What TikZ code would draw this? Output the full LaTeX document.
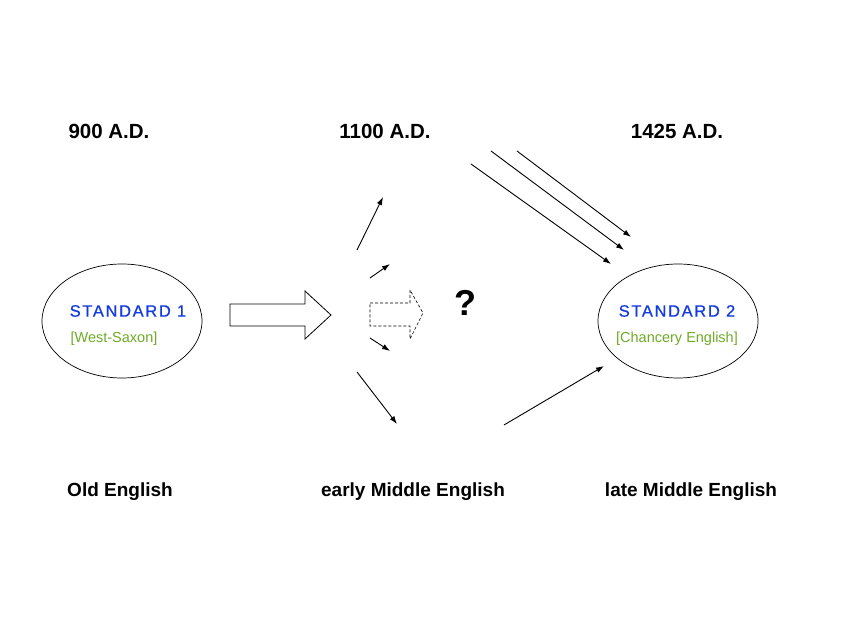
\documentclass[tikz,border=0pt]{standalone}
\usepackage{fontspec}
\setmainfont{Liberation Sans}
\newfontfamily\stdfont[LetterSpace=10,FakeBold=0.8]{Liberation Sans}
\usetikzlibrary{arrows.meta,shapes.geometric}
\definecolor{stdblue}{RGB}{20,60,220}
\definecolor{stdgreen}{RGB}{110,170,40}
\tikzset{
  lbl/.style={font=\fontsize{19}{22}\selectfont\bfseries, inner sep=0pt},
  datelbl/.style={font=\fontsize{20.5}{24}\selectfont\bfseries, inner sep=0pt},
  stdname/.style={font=\stdfont\fontsize{16.5}{19}\selectfont, text=stdblue, inner sep=0pt},
  stdsub/.style={font=\fontsize{14.5}{17}\selectfont, text=stdgreen, inner sep=0pt},
  stdell/.style={draw, line width=0.7pt, ellipse, minimum width=160pt, minimum height=114pt},
  arr/.style={-{Latex[length=8pt,width=5.5pt]}, line width=0.9pt},
}
\begin{document}
\begin{tikzpicture}[x=1pt,y=-1pt]
\useasboundingbox (0,0) rectangle (848,636);
% labels
\node[datelbl] (d900) at (109,131) {900 A.D.};
\node[datelbl] (d1100) at (385,131) {1100 A.D.};
\node[datelbl] (d1425) at (677,131) {1425 A.D.};
\node[lbl] (oe) at (120,492) {Old English};
\node[lbl] (eme) at (413,492) {early Middle English};
\node[lbl] (lme) at (691,492) {late Middle English};
% ellipses
\node[stdell] (s1) at (122,321) {};
\node[stdell] (s2) at (678,321) {};
\node[stdname] (s1n) at (128,311) {STANDARD 1};
\node[stdsub] (s1s) at (114,339) {[West-Saxon]};
\node[stdname] (s2n) at (677,311) {STANDARD 2};
\node[stdsub] (s2s) at (677,339) {[Chancery English]};
% big arrow
\draw[line width=0.8pt] (230,304) -- (305,304) -- (305,291) -- (331,315) -- (305,339) -- (305,326) -- (230,326) -- cycle;
% dashed arrow
\draw[line width=0.6pt, dash pattern=on 3pt off 2pt] (370,303) -- (410,303) -- (410,290) -- (423,313) -- (410,339) -- (410,326) -- (370,326) -- cycle;
\node[font=\fontsize{36}{40}\selectfont\bfseries, inner sep=0pt] (q) at (465,303) {?};
% small arrows
\coordinate (a1s) at (357,250); \coordinate (a1e) at (383,197);
\coordinate (a2s) at (370,278); \coordinate (a2e) at (390,264);
\coordinate (a3s) at (370,338); \coordinate (a3e) at (390,351);
\coordinate (a4s) at (357,372); \coordinate (a4e) at (397,424);
\draw[arr] (a1s) -- (a1e);
\draw[arr] (a2s) -- (a2e);
\draw[arr] (a3s) -- (a3e);
\draw[arr] (a4s) -- (a4e);
% three arrows
\coordinate (b1s) at (491,151); \coordinate (b1e) at (624,250);
\coordinate (b2s) at (517,151); \coordinate (b2e) at (631,237);
\coordinate (b3s) at (471,164); \coordinate (b3e) at (611,264);
\draw[arr] (b1s) -- (b1e);
\draw[arr] (b2s) -- (b2e);
\draw[arr] (b3s) -- (b3e);
\coordinate (c1s) at (504,425); \coordinate (c1e) at (604,366);
\draw[arr] (c1s) -- (c1e);
\end{tikzpicture}
\end{document}
